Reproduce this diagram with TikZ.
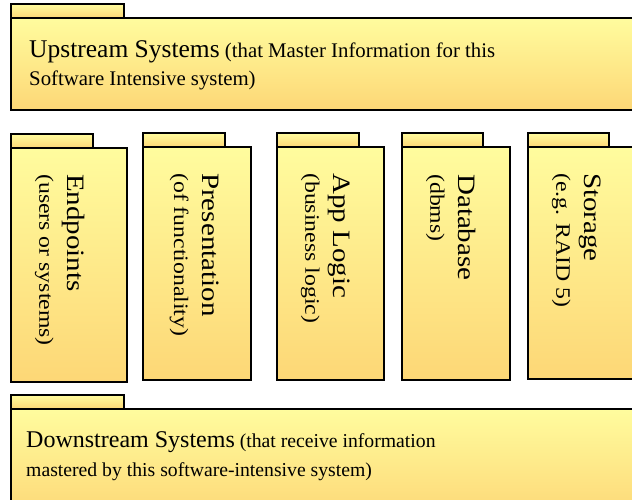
\documentclass[tikz,border=0pt]{standalone}
\usepackage{fontspec}
\setmainfont{Liberation Serif}
\newfontfamily\widefont[FakeStretch=1.16]{Liberation Serif}
\definecolor{pkgtop}{RGB}{255,252,158}
\definecolor{pkgbot}{RGB}{253,215,118}
\newcommand\upbig{\fontsize{25.5}{28}\selectfont}
\newcommand\dnbig{\fontsize{24}{29}\selectfont}
\newcommand\vbig{\fontsize{25}{28}\selectfont}
\begin{document}
\begin{tikzpicture}[x=1pt,y=-1pt,
  pkg/.style={draw=black, line width=1.3pt, top color=pkgtop, bottom color=pkgbot,
    preaction={draw=gray!45, line width=2.6pt}, rectangle, inner sep=0pt, outer sep=0pt},
  pbody/.style={pkg, anchor=north west},
  ptab/.style={pkg, anchor=south west, minimum height=14pt},
  htext/.style={anchor=north west, inner sep=0pt, align=left},
  vtext/.style={rotate=-90, anchor=north west, inner sep=0pt, align=left, font=\widefont\fontsize{20.5}{28}\selectfont}]
\useasboundingbox (0,0) rectangle (632,499);
\clip (0,0) rectangle (632,499);
% Upstream
\node[pbody, minimum width=640pt, minimum height=92pt] (upbody) at (11,18) {};
\node[ptab, minimum width=113pt] (uptab) at (upbody.north west) {};
\node[htext, font=\fontsize{20.8}{28}\selectfont] (uptext) at (29,40) {{\upbig Upstream Systems} (that Master Information for this\\Software Intensive system)};
% Columns
\node[pbody, minimum width=116pt, minimum height=234pt] (epbody) at (11,148) {};
\node[ptab, minimum width=82pt] (eptab) at (epbody.north west) {};
\node[vtext] (eptext) at (85,174) {{\vbig Endpoints}\\(users or systems)};
\node[pbody, minimum width=108pt, minimum height=233pt] (prbody) at (143,147) {};
\node[ptab, minimum width=82pt] (prtab) at (prbody.north west) {};
\node[vtext] (prtext) at (219,173) {{\vbig Presentation}\\(of functionality)};
\node[pbody, minimum width=107pt, minimum height=233pt] (albody) at (277,147) {};
\node[ptab, minimum width=82pt] (altab) at (albody.north west) {};
\node[vtext] (altext) at (350,173) {{\vbig App Logic}\\(business logic)};
\node[pbody, minimum width=108pt, minimum height=233pt] (dbbody) at (402,147) {};
\node[ptab, minimum width=81pt] (dbtab) at (dbbody.north west) {};
\node[vtext] (dbtext) at (476,174) {{\vbig Database}\\(dbms)};
\node[pbody, minimum width=120pt, minimum height=232pt] (stbody) at (528,147) {};
\node[ptab, minimum width=81pt] (sttab) at (stbody.north west) {};
\node[vtext] (sttext) at (601,173) {{\vbig Storage}\\(e.g. RAID 5)};
% Downstream
\node[pbody, minimum width=640pt, minimum height=110pt] (dnbody) at (11,409) {};
\node[ptab, minimum width=113pt] (dntab) at (dnbody.north west) {};
\node[htext, font=\fontsize{19.7}{29}\selectfont] (dntext) at (26,431) {{\dnbig Downstream Systems} (that receive information\\mastered by this software-intensive system)};
\end{tikzpicture}
\end{document}
